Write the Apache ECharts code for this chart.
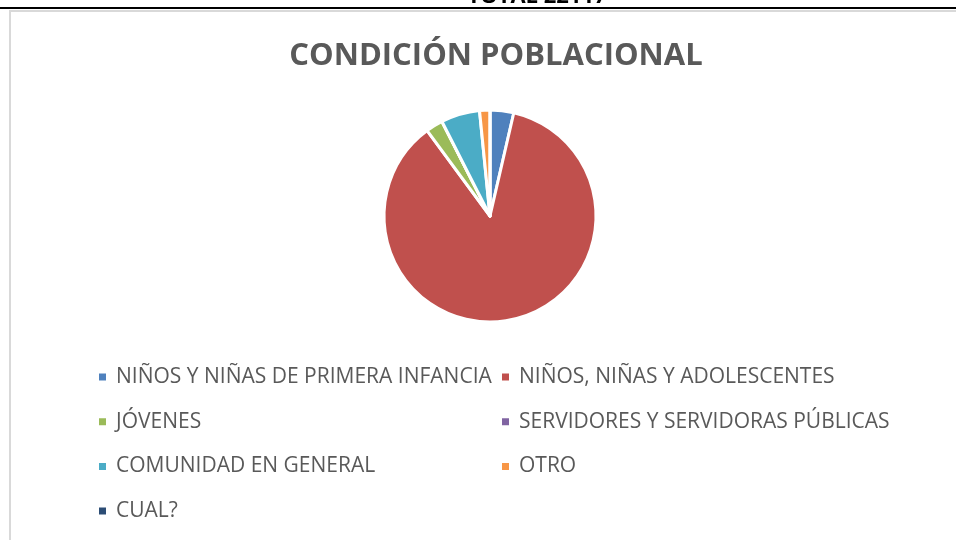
<!DOCTYPE html>
<html>
<head>
<meta charset="utf-8">
<script src="https://cdn.jsdelivr.net/npm/echarts@6/dist/echarts.min.js"></script>
<style>
  html, body { margin: 0; padding: 0; background: #fff; }
  #chart { width: 956px; height: 540px; }
</style>
</head>
<body>
<div id="chart"></div>
<script>
// condicion poblacional - pie

var categories = [
    'NIÑOS Y NIÑAS DE PRIMERA INFANCIA',
    'NIÑOS, NIÑAS Y ADOLESCENTES',
    'JÓVENES',
    'SERVIDORES Y SERVIDORAS PÚBLICAS',
    'COMUNIDAD EN GENERAL',
    'OTRO',
    'CUAL?'
];
var values = [80, 1913, 58, 0, 131, 35, 0];
var colors = ['#4F81BD', '#C0504D', '#9BBB59', '#8064A2', '#4BACC6', '#F79646', '#2C4D75'];

var leftCol = [categories[0], categories[2], categories[4], categories[6]];
var rightCol = [categories[1], categories[3], categories[5]];

var FONT = 'Open Sans';
var GREY = '#595959';

var pieData = [];
for (var i = 0; i < categories.length; i++) {
    pieData.push({ name: categories[i], value: values[i] });
}

var legendText = {
    color: GREY,
    fontFamily: FONT,
    fontSize: 21,
    lineHeight: 24,
    padding: [0, 0, 0, 4]
};

var chart = echarts.init(document.getElementById('chart'));
chart.setOption({
    color: colors,
    animation: false,
    title: {
        text: 'CONDICIÓN POBLACIONAL',
        left: 491,
        textAlign: 'center',
        top: 36,
        textStyle: {
            color: GREY,
            fontFamily: FONT,
            fontWeight: 'bold',
            fontSize: 31
        }
    },
    legend: [
        {
            orient: 'vertical',
            left: 97,
            top: 365,
            icon: 'rect',
            itemWidth: 9,
            itemHeight: 9,
            itemGap: 20.7,
            padding: 0,
            selectedMode: false,
            data: leftCol,
            textStyle: legendText
        },
        {
            orient: 'vertical',
            left: 500,
            top: 365,
            icon: 'rect',
            itemWidth: 9,
            itemHeight: 9,
            itemGap: 20.7,
            padding: 0,
            selectedMode: false,
            data: rightCol,
            textStyle: legendText
        }
    ],
    graphic: [
        {
            type: 'text',
            x: 537,
            y: -3,
            z: 1,
            style: {
                text: 'TOTAL 22117',
                fill: '#000',
                font: 'bold 22px "Open Sans"',
                textAlign: 'center',
                textVerticalAlign: 'middle'
            }
        },
        {
            type: 'rect',
            z: 2,
            shape: { x: 0, y: 7, width: 956, height: 540 },
            style: { fill: '#fff' }
        },
        {
            type: 'line',
            z: 3,
            shape: { x1: 0, y1: 8, x2: 956, y2: 8 },
            style: { stroke: '#000', lineWidth: 2 }
        },
        {
            type: 'polyline',
            z: 3,
            shape: { points: [[10, 540], [10, 11], [956, 11]] },
            style: { stroke: '#D9D9D9', lineWidth: 2, fill: null }
        }
    ],
    series: [
        {
            type: 'pie',
            center: [490, 216],
            radius: [0, 106],
            startAngle: 90,
            clockwise: true,
            silent: true,
            label: { show: false },
            labelLine: { show: false },
            itemStyle: {
                borderColor: '#fff',
                borderWidth: 3
            },
            data: pieData
        }
    ]
});
</script>
</body>
</html>
